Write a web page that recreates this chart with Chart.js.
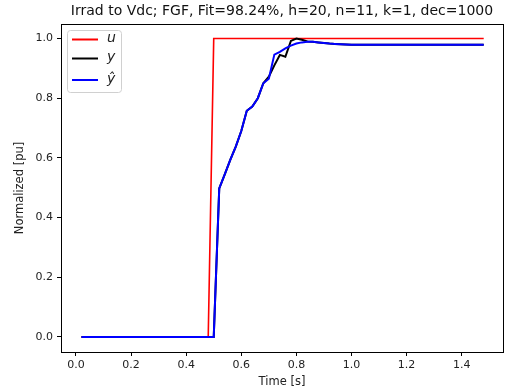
<!DOCTYPE html>
<html>
<head>
<meta charset="utf-8">
<script src="https://cdn.jsdelivr.net/npm/chart.js@4/dist/chart.umd.min.js"></script>
<style>
  html, body { margin: 0; padding: 0; background: #fff; }
  #wrap { width: 506px; height: 392px; }
</style>
</head>
<body>
<div id="wrap"><canvas id="fitChart"></canvas></div>
<script>
// sample times [s]
const timeS = [0.02, 0.04, 0.06, 0.08, 0.10, 0.12, 0.14, 0.16, 0.18, 0.20,
    0.22, 0.24, 0.26, 0.28, 0.30, 0.32, 0.34, 0.36, 0.38, 0.40,
    0.42, 0.44, 0.46, 0.48, 0.50, 0.52, 0.54, 0.56, 0.58, 0.60,
    0.62, 0.64, 0.66, 0.68, 0.70, 0.72, 0.74, 0.76, 0.78, 0.80,
    0.82, 0.84, 0.86, 0.88, 0.90, 0.92, 0.94, 0.96, 0.98, 1.00,
    1.02, 1.04, 1.06, 1.08, 1.10, 1.12, 1.14, 1.16, 1.18, 1.20,
    1.22, 1.24, 1.26, 1.28, 1.30, 1.32, 1.34, 1.36, 1.38, 1.40,
    1.42, 1.44, 1.46, 1.48];

// input u
const uVals = [0, 0, 0, 0, 0, 0, 0, 0, 0, 0,
    0, 0, 0, 0, 0, 0, 0, 0, 0, 0,
    0, 0, 0, 0, 1, 1, 1, 1, 1, 1,
    1, 1, 1, 1, 1, 1, 1, 1, 1, 1,
    1, 1, 1, 1, 1, 1, 1, 1, 1, 1,
    1, 1, 1, 1, 1, 1, 1, 1, 1, 1,
    1, 1, 1, 1, 1, 1, 1, 1, 1, 1,
    1, 1, 1, 1];

// measured y
const yVals = [0, 0, 0, 0, 0, 0, 0, 0, 0, 0,
    0, 0, 0, 0, 0, 0, 0, 0, 0, 0,
    0, 0, 0, 0, 0, 0.498, 0.545, 0.593, 0.638, 0.690,
    0.758, 0.772, 0.800, 0.850, 0.872, 0.910, 0.945, 0.939, 0.992, 1.000,
    0.996, 0.990, 0.989, 0.987, 0.985, 0.983, 0.982, 0.981, 0.980, 0.979,
    0.979, 0.979, 0.979, 0.979, 0.979, 0.979, 0.979, 0.979, 0.979, 0.979,
    0.979, 0.979, 0.979, 0.979, 0.979, 0.979, 0.979, 0.979, 0.979, 0.979,
    0.979, 0.979, 0.979, 0.979];

// model output y-hat
const yHatVals = [0, 0, 0, 0, 0, 0, 0, 0, 0, 0,
    0, 0, 0, 0, 0, 0, 0, 0, 0, 0,
    0, 0, 0, 0, 0, 0.498, 0.545, 0.593, 0.638, 0.690,
    0.758, 0.772, 0.800, 0.850, 0.865, 0.946, 0.955, 0.967, 0.976, 0.983,
    0.987, 0.989, 0.989, 0.987, 0.985, 0.983, 0.982, 0.981, 0.980, 0.979,
    0.979, 0.979, 0.979, 0.979, 0.979, 0.979, 0.979, 0.979, 0.979, 0.979,
    0.979, 0.979, 0.979, 0.979, 0.979, 0.979, 0.979, 0.979, 0.979, 0.979,
    0.979, 0.979, 0.979, 0.979];

const xTicks = [0.0, 0.2, 0.4, 0.6, 0.8, 1.0, 1.2, 1.4];
const yTicks = [0.0, 0.2, 0.4, 0.6, 0.8, 1.0];

const chartTitle = 'Irrad to Vdc; FGF, Fit=98.24%, h=20, n=11, k=1, dec=1000';
const legendItems = [
    { text: 'u', color: '#ff0000' },
    { text: 'y', color: '#000000' },
    { text: 'ŷ', color: '#0000ff' }
];

function toPoints(vals) {
    return vals.map((v, i) => ({ x: timeS[i], y: v }));
}

// frame + title + legend, matplotlib style
const mplExtras = {
    id: 'mplExtras',
    afterDraw(chart) {
        const ctx = chart.ctx;
        const a = chart.chartArea;
        ctx.save();
        ctx.strokeStyle = '#000';
        ctx.lineWidth = 1;
        ctx.strokeRect(Math.round(a.left) + 0.5, Math.round(a.top) + 0.5,
            Math.round(a.right - a.left), Math.round(a.bottom - a.top));

        ctx.fillStyle = '#111';
        ctx.font = '14px "DejaVu Sans"';
        ctx.textAlign = 'center';
        ctx.textBaseline = 'middle';
        ctx.fillText(chartTitle, (a.left + a.right) / 2, 11);

        // legend box
        const bx = a.left + 6.5, by = a.top + 6.5, bw = 54, bh = 62;
        ctx.beginPath();
        ctx.roundRect(bx, by, bw, bh, 3);
        ctx.fillStyle = 'rgba(255,255,255,0.8)';
        ctx.fill();
        ctx.strokeStyle = '#d0d0d0';
        ctx.stroke();

        const rows = [39.5, 58.5, 80];
        legendItems.forEach((it, i) => {
            const yy = rows[i];
            ctx.beginPath();
            ctx.moveTo(72, yy);
            ctx.lineTo(98, yy);
            ctx.strokeStyle = it.color;
            ctx.lineWidth = 2;
            ctx.stroke();
            ctx.fillStyle = '#222';
            ctx.font = 'italic 14px "DejaVu Sans"';
            ctx.textAlign = 'left';
            ctx.textBaseline = 'middle';
            ctx.fillText(it.text, 107, yy - 1);
        });
        ctx.restore();
    }
};

const ctx = document.getElementById('fitChart').getContext('2d');

new Chart(ctx, {
    type: 'line',
    data: {
        datasets: [
            {
                label: 'u',
                data: toPoints(uVals),
                borderColor: '#ff0000',
                borderWidth: 1.6,
                pointRadius: 0,
                tension: 0,
                order: 3
            },
            {
                label: 'y',
                data: toPoints(yVals),
                borderColor: '#000000',
                borderWidth: 2,
                pointRadius: 0,
                tension: 0,
                order: 2
            },
            {
                label: 'ŷ',
                data: toPoints(yHatVals),
                borderColor: '#0000ff',
                borderWidth: 2,
                pointRadius: 0,
                tension: 0,
                order: 1
            }
        ]
    },
    options: {
        responsive: true,
        maintainAspectRatio: false,
        animation: false,
        layout: {
            padding: { top: 24, right: 3, bottom: 0, left: 0 }
        },
        scales: {
            x: {
                type: 'linear',
                min: -0.0544,
                max: 1.55,
                afterBuildTicks: function(scale) {
                    scale.ticks = xTicks.map(v => ({ value: v }));
                },
                afterFit: function(scale) {
                    scale.height = 40;
                },
                grid: { drawOnChartArea: false, drawTicks: true, tickLength: 4, color: '#000' },
                border: { display: false },
                ticks: {
                    color: '#222',
                    font: { family: 'DejaVu Sans', size: 11 },
                    padding: 3,
                    maxRotation: 0,
                    callback: function(value) {
                        return Number(value).toFixed(1);
                    }
                },
                title: {
                    display: true,
                    text: 'Time [s]',
                    color: '#222',
                    font: { family: 'DejaVu Sans', size: 11.5 },
                    padding: { top: 0, bottom: 3 }
                }
            },
            y: {
                type: 'linear',
                min: -0.0503,
                max: 1.0486,
                afterBuildTicks: function(scale) {
                    scale.ticks = yTicks.map(v => ({ value: v }));
                },
                afterFit: function(scale) {
                    scale.width = 61;
                },
                grid: { drawOnChartArea: false, drawTicks: true, tickLength: 4, color: '#000' },
                border: { display: false },
                ticks: {
                    color: '#222',
                    font: { family: 'DejaVu Sans', size: 11 },
                    padding: 4,
                    callback: function(value) {
                        return Number(value).toFixed(1);
                    }
                },
                title: {
                    display: true,
                    text: 'Normalized [pu]',
                    color: '#222',
                    font: { family: 'DejaVu Sans', size: 11.5 },
                    padding: { top: 13, bottom: 0 }
                }
            }
        },
        plugins: {
            legend: { display: false },
            title: { display: false },
            tooltip: { enabled: false }
        }
    },
    plugins: [mplExtras]
});
</script>
</body>
</html>
